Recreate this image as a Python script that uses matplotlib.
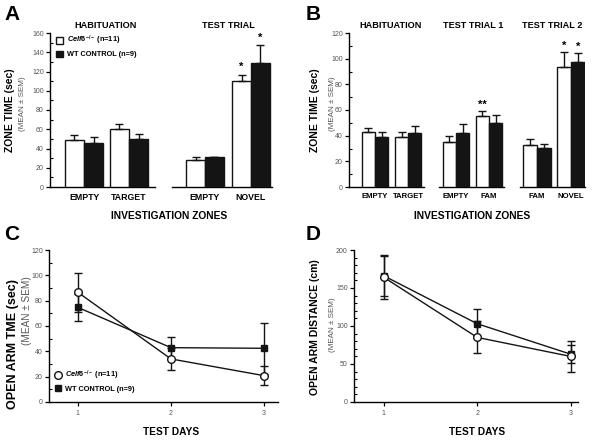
import matplotlib
matplotlib.use("Agg")
import matplotlib.pyplot as plt
from matplotlib.lines import Line2D
from matplotlib.patches import Patch
from matplotlib.ticker import MultipleLocator

plt.rcParams['font.family'] = ['Liberation Sans', 'DejaVu Sans']
plt.rcParams['mathtext.fontset'] = 'custom'
plt.rcParams['mathtext.it'] = 'Liberation Sans:italic:bold'
plt.rcParams['mathtext.rm'] = 'Liberation Sans:bold'
plt.rcParams['mathtext.bf'] = 'Liberation Sans:bold'

# ---------------- data ----------------
ko_label = r"$\it{Celf6}^{-/-}$ (n=11)"
wt_label = "WT CONTROL (n=9)"

# Panel A
A_hab_cats = ["EMPTY", "TARGET"]
A_hab_ko = [49, 60]
A_hab_ko_err = [5.5, 5.5]
A_hab_wt = [46, 50]
A_hab_wt_err = [6, 4.6]
A_test_cats = ["EMPTY", "NOVEL"]
A_test_ko = [27.7, 110]
A_test_ko_err = [3.8, 6.7]
A_test_wt = [30.8, 128.8]
A_test_wt_err = [0.8, 18.7]
A_test_ko_sig = ["", "*"]
A_test_wt_sig = ["", "*"]

# Panel B
B_hab_cats = ["EMPTY", "TARGET"]
B_hab_ko = [42.6, 39.2]
B_hab_ko_err = [3.1, 3.8]
B_hab_wt = [39, 42]
B_hab_wt_err = [4, 5.7]
B_t1_cats = ["EMPTY", "FAM"]
B_t1_ko = [34.8, 55.3]
B_t1_ko_err = [4.9, 3.6]
B_t1_wt = [41.8, 49.9]
B_t1_wt_err = [7.2, 5.9]
B_t1_ko_sig = ["", "**"]
B_t1_wt_sig = ["", ""]
B_t2_cats = ["FAM", "NOVEL"]
B_t2_ko = [32.4, 93.2]
B_t2_ko_err = [5, 11.7]
B_t2_wt = [30.6, 97.6]
B_t2_wt_err = [3.1, 6.5]
B_t2_ko_sig = ["", "*"]
B_t2_wt_sig = ["", "*"]

# Panel C
days = [1, 2, 3]
C_ko = [86.6, 34, 20.8]
C_ko_err = [15.4, 8.5, 7.3]
C_wt = [74.7, 42.9, 42.4]
C_wt_err = [10.5, 8.7, 20.2]

# Panel D
D_ko = [164, 85, 60]
D_ko_err = [28, 21, 20]
D_wt = [166, 103, 63]
D_wt_err = [27, 19, 12]

# ---------------- figure ----------------
W, H = 600, 446
fig = plt.figure(figsize=(6, 4.46), dpi=100)
BLACK = "#141414"
GRAY = "#555555"


def rect(x0, x1, y0, y1):
    return [x0 / W, 1 - y1 / H, (x1 - x0) / W, (y1 - y0) / H]


def fx(px):
    return px / W


def fy(py):
    return 1 - py / H


def bar_axes(x0, x1, y0, y1, xlim, ymax, ymajor, show_y, cats, ko, ko_err,
             wt, wt_err, width, tick_fs, ko_sig=None, wt_sig=None, sig_off=2.0):
    ax = fig.add_axes(rect(x0, x1, y0, y1))
    ax.set_xlim(*xlim)
    ax.set_ylim(0, ymax)
    for s in ["top", "right"]:
        ax.spines[s].set_visible(False)
    ax.spines["bottom"].set_linewidth(1.0)
    ax.spines["left"].set_linewidth(1.0)
    pos = list(range(len(cats)))
    ek = dict(ecolor=BLACK, elinewidth=1.0, capsize=3, capthick=1.0)
    xk = [p - width / 2 for p in pos]
    xw = [p + width / 2 for p in pos]
    ax.bar(xk, ko, width, color="white", edgecolor=BLACK, linewidth=1.0,
           yerr=[[0] * len(ko), ko_err], error_kw=ek, zorder=3)
    ax.bar(xw, wt, width, color=BLACK, edgecolor=BLACK, linewidth=1.0,
           yerr=[[0] * len(wt), wt_err], error_kw=ek, zorder=3)
    if ko_sig:
        for x, v, e, s in zip(xk, ko, ko_err, ko_sig):
            if s:
                ax.text(x, v + e + sig_off, s, ha="center", va="bottom",
                        fontsize=8, fontweight="bold")
    if wt_sig:
        for x, v, e, s in zip(xw, wt, wt_err, wt_sig):
            if s:
                ax.text(x, v + e + sig_off, s, ha="center", va="bottom",
                        fontsize=8, fontweight="bold")
    ax.set_xticks(pos)
    ax.set_xticklabels(cats, fontsize=tick_fs, fontweight="bold")
    ax.tick_params(axis="x", length=0, pad=4)
    if show_y:
        ax.yaxis.set_major_locator(MultipleLocator(ymajor))
        ax.yaxis.set_minor_locator(MultipleLocator(ymajor / 2))
        ax.tick_params(axis="y", which="major", length=3, width=0.9,
                       labelsize=5, labelcolor=GRAY, pad=1.5)
        ax.tick_params(axis="y", which="minor", length=2, width=0.8,
                       direction="in")
    else:
        ax.spines["left"].set_visible(False)
        ax.set_yticks([])
    ax.patch.set_alpha(0)
    return ax


# ---- Panel A ----
wA = 0.43
axA1 = bar_axes(50, 155, 33, 187, (-0.756, 1.578), 160, 20, True,
                A_hab_cats, A_hab_ko, A_hab_ko_err, A_hab_wt, A_hab_wt_err,
                wA, 6.3)
axA2 = bar_axes(172, 272, 33, 187, (-0.717, 1.457), 160, 20, False,
                A_test_cats, A_test_ko, A_test_ko_err, A_test_wt, A_test_wt_err,
                0.41, 6.3, A_test_ko_sig, A_test_wt_sig, sig_off=2.5)
handles = [Patch(facecolor="white", edgecolor=BLACK, linewidth=1.0),
           Patch(facecolor=BLACK, edgecolor=BLACK, linewidth=1.0)]
axA1.legend(handles, [ko_label, wt_label], loc="upper left",
            bbox_to_anchor=(fx(56), fy(34)), bbox_transform=fig.transFigure,
            frameon=False, fontsize=5.3, handlelength=1.0, handleheight=1.0,
            handletextpad=0.5, borderpad=0, borderaxespad=0, labelspacing=0.45,
            prop={"weight": "bold", "size": 5.3})
fig.text(fx(106), fy(25), "HABITUATION", ha="center", va="center",
         fontsize=6.6, fontweight="bold")
fig.text(fx(228), fy(25), "TEST TRIAL", ha="center", va="center",
         fontsize=6.6, fontweight="bold")
fig.text(fx(169), fy(216), "INVESTIGATION ZONES", ha="center", va="center",
         fontsize=7.4, fontweight="bold")
fig.text(fx(10), fy(110), "ZONE TIME (sec)", ha="center", va="center",
         rotation=90, fontsize=7.5, fontweight="bold")
fig.text(fx(23), fy(104), "(MEAN \u00b1 SEM)", ha="center", va="center",
         rotation=90, fontsize=5.8, color=GRAY)
fig.text(fx(4), fy(14), "A", ha="left", va="center", fontsize=15,
         fontweight="bold")

# ---- Panel B ----
wB = 0.4
bar_axes(349, 424, 33, 187, (-0.79, 1.48), 120, 20, True,
         B_hab_cats, B_hab_ko, B_hab_ko_err, B_hab_wt, B_hab_wt_err, wB, 5.6)
bar_axes(439, 504, 33, 187, (-0.515, 1.45), 120, 20, False,
         B_t1_cats, B_t1_ko, B_t1_ko_err, B_t1_wt, B_t1_wt_err, wB, 5.6,
         B_t1_ko_sig, B_t1_wt_sig, sig_off=1.5)
bar_axes(520, 585, 33, 187, (-0.5, 1.41), 120, 20, False,
         B_t2_cats, B_t2_ko, B_t2_ko_err, B_t2_wt, B_t2_wt_err, 0.41, 5.6,
         B_t2_ko_sig, B_t2_wt_sig, sig_off=1.5)
fig.text(fx(391), fy(25), "HABITUATION", ha="center", va="center",
         fontsize=6.6, fontweight="bold")
fig.text(fx(473), fy(25), "TEST TRIAL 1", ha="center", va="center",
         fontsize=6.6, fontweight="bold")
fig.text(fx(552), fy(25), "TEST TRIAL 2", ha="center", va="center",
         fontsize=6.6, fontweight="bold")
fig.text(fx(472), fy(216), "INVESTIGATION ZONES", ha="center", va="center",
         fontsize=7.4, fontweight="bold")
fig.text(fx(315), fy(110), "ZONE TIME (sec)", ha="center", va="center",
         rotation=90, fontsize=7.5, fontweight="bold")
fig.text(fx(332), fy(104), "(MEAN \u00b1 SEM)", ha="center", va="center",
         rotation=90, fontsize=5.8, color=GRAY)
fig.text(fx(306), fy(14), "B", ha="left", va="center", fontsize=15,
         fontweight="bold")


# ---- line panels ----
def line_axes(x0, x1, ymax, ymajor, yminor, xlim):
    ax = fig.add_axes(rect(x0, x1, 250, 402))
    ax.set_xlim(*xlim)
    ax.set_ylim(0, ymax)
    for s in ["top", "right"]:
        ax.spines[s].set_visible(False)
    ax.spines["bottom"].set_linewidth(1.0)
    ax.spines["left"].set_linewidth(1.0)
    ax.set_xticks(days)
    ax.yaxis.set_major_locator(MultipleLocator(ymajor))
    ax.yaxis.set_minor_locator(MultipleLocator(yminor))
    ax.tick_params(axis="both", which="major", length=3, width=0.9,
                   labelsize=5, labelcolor=GRAY, pad=1.5)
    ax.tick_params(axis="x", pad=3)
    ax.tick_params(axis="y", which="minor", length=2, width=0.8,
                   direction="in")
    ax.patch.set_alpha(0)
    return ax


def draw_series(ax, ko, ko_err, wt, wt_err, ko_on_top=True):
    kw = dict(color=BLACK, lw=1.0, capsize=3, capthick=1.0, elinewidth=1.0)
    ax.errorbar(days, wt, yerr=wt_err, fmt="-s", ms=4.5, mfc=BLACK,
                mec=BLACK, zorder=3 if ko_on_top else 5, **kw)
    ax.errorbar(days, ko, yerr=ko_err, fmt="-o", ms=5.5, mfc="white",
                mec=BLACK, mew=1.0, zorder=4, **kw)


axC = line_axes(49, 278, 120, 20, 10, (0.69, 3.15))
draw_series(axC, C_ko, C_ko_err, C_wt, C_wt_err)
lh = [Line2D([], [], marker="o", ls="none", ms=5.5, mfc="white", mec=BLACK,
             mew=1.0),
      Line2D([], [], marker="s", ls="none", ms=5, mfc=BLACK, mec=BLACK)]
axC.legend(lh, [ko_label, wt_label], loc="upper left",
           bbox_to_anchor=(fx(55), fy(369)), bbox_transform=fig.transFigure,
           frameon=False, handlelength=0.8, handletextpad=0.5, borderpad=0,
           borderaxespad=0, labelspacing=0.45,
           prop={"weight": "bold", "size": 5.3})
fig.text(fx(171), fy(432), "TEST DAYS", ha="center", va="center",
         fontsize=7.3, fontweight="bold")
fig.text(fx(13), fy(344), "OPEN ARM TME (sec)", ha="center", va="center",
         rotation=90, fontsize=9, fontweight="bold")
fig.text(fx(27), fy(311), "(MEAN \u00b1 SEM)", ha="center", va="center",
         rotation=90, fontsize=7.2, color=GRAY)
fig.text(fx(4), fy(235), "C", ha="left", va="center", fontsize=15,
         fontweight="bold")

axD = line_axes(354, 578, 200, 50, 10, (0.68, 3.08))
draw_series(axD, D_ko, D_ko_err, D_wt, D_wt_err)
fig.text(fx(477), fy(432), "TEST DAYS", ha="center", va="center",
         fontsize=7.3, fontweight="bold")
fig.text(fx(315), fy(327), "OPEN ARM DISTANCE (cm)", ha="center", va="center",
         rotation=90, fontsize=7.5, fontweight="bold")
fig.text(fx(332), fy(325), "(MEAN \u00b1 SEM)", ha="center", va="center",
         rotation=90, fontsize=5.8, color=GRAY)
fig.text(fx(306), fy(235), "D", ha="left", va="center", fontsize=15,
         fontweight="bold")

fig.savefig("out.png", dpi=100)
